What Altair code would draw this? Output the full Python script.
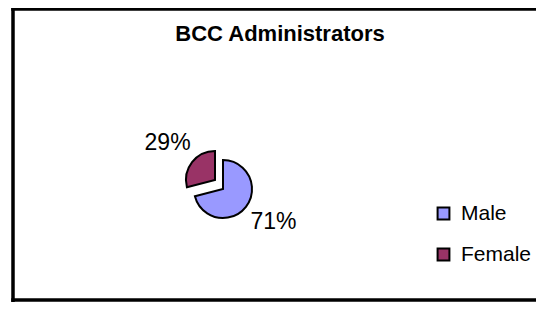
import altair as alt
import pandas as pd

# ---- data ----
genders = ["Male", "Female"]
shares = [0.71, 0.29]
order_idx = [0, 1]
colors = ["#9999FF", "#993366"]
title_text = "BCC Administrators"

df = pd.DataFrame({"gender": genders, "share": shares, "idx": order_idx})

FONT = "Liberation Sans"
CX, CY = 215, 181          # pie centre (layout)
EXPLODE_X, EXPLODE_Y = -8, -9
W, H = 528, 294

base = (
    alt.Chart(df)
    .transform_window(end="sum(share)", sort=[alt.SortField("idx")])
    .transform_calculate(start="datum.end - datum.share",
                         mid="datum.end - datum.share / 2")
)

theta_scale = alt.Scale(domain=[0, 1])

color = alt.Color(
    "gender:N",
    sort=genders,
    scale=alt.Scale(domain=genders, range=colors),
    legend=alt.Legend(
        title=None,
        orient="none",
        legendX=425,
        legendY=195,
        symbolType="square",
        symbolSize=140,
        symbolStrokeColor="black",
        symbolStrokeWidth=2,
        symbolOpacity=1,
        labelFont=FONT,
        labelFontSize=21,
        labelColor="black",
        labelOffset=7,
        rowPadding=19,
        padding=0,
    ),
)

def arc_layer(name, dx=0, dy=0):
    return (
        base.transform_filter(alt.datum.gender == name)
        .mark_arc(radius=29, stroke="black", strokeWidth=2, xOffset=dx, yOffset=dy)
        .encode(
            theta=alt.Theta("start:Q", scale=theta_scale, stack=False),
            theta2="end:Q",
            color=color,
            x=alt.value(CX),
            y=alt.value(CY),
        )
    )

def label_layer(name, dx=0, dy=0):
    return (
        base.transform_filter(alt.datum.gender == name)
        .mark_text(radius=60, font=FONT, fontSize=23, color="black",
                   align="center", baseline="middle", xOffset=dx, yOffset=dy)
        .encode(
            theta=alt.Theta("mid:Q", scale=theta_scale, stack=False),
            text=alt.Text("share:Q", format=".0%"),
            x=alt.value(CX),
            y=alt.value(CY),
        )
    )

one = pd.DataFrame({"f": [0]})
rule_style = dict(color="black", strokeWidth=3.5)
frame_left = alt.Chart(one).mark_rule(**rule_style).encode(
    x=alt.value(5), y=alt.value(0), y2=alt.value(H))
frame_top = alt.Chart(one).mark_rule(**rule_style).encode(
    x=alt.value(3.25), x2=alt.value(W), y=alt.value(1))
frame_bottom = alt.Chart(one).mark_rule(**rule_style).encode(
    x=alt.value(3.25), x2=alt.value(W), y=alt.value(H - 2))

title = (
    alt.Chart(pd.DataFrame({"t": [title_text]}))
    .mark_text(font=FONT, fontSize=22, fontWeight="bold", color="black",
               align="center", baseline="alphabetic")
    .encode(text="t:N", x=alt.value(272), y=alt.value(33))
)

chart = (
    alt.layer(
        frame_left,
        frame_top,
        frame_bottom,
        arc_layer("Male"),
        arc_layer("Female", EXPLODE_X, EXPLODE_Y),
        label_layer("Male", 3, -4),
        label_layer("Female", EXPLODE_X, EXPLODE_Y),
        title,
    )
    .properties(width=W, height=H, padding=0,
                autosize=alt.AutoSizeParams(type="none"),
                background="white")
    .configure_view(stroke="transparent", strokeWidth=0)
)

chart.save("out.html", embed_options={"renderer": "svg", "actions": False})
